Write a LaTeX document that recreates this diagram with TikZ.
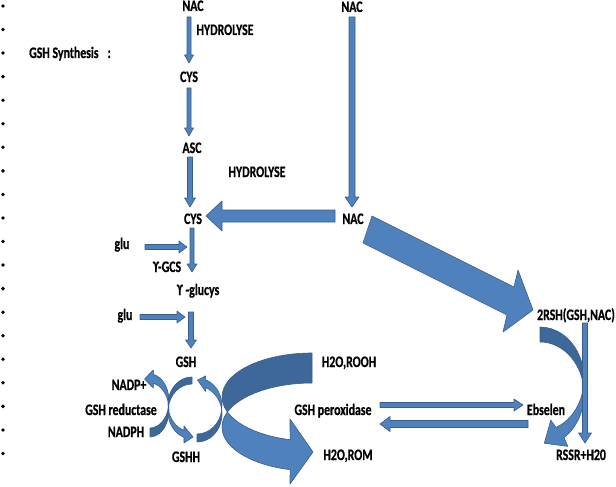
\documentclass[tikz,border=0pt]{standalone}
\usepackage{fontspec}
\setmainfont{Carlito}[FakeStretch=0.74, BoldFeatures={FakeBold=0.6}]
\usetikzlibrary{calc}
\definecolor{blkfill}{HTML}{4F81BD}
\definecolor{blkline}{HTML}{385D8A}
\definecolor{blkdark}{HTML}{3D6899}
\tikzset{
  blk/.style={fill=blkfill, draw=blkline, line width=0.6pt, line join=round},
  ribback/.style={fill=blkdark, draw=blkline, line width=0.6pt, line join=round},
  ribfront/.style={fill=blkfill, draw=blkline, line width=0.6pt, line join=round},
  lbl/.style={inner sep=0pt, text height=10pt, text depth=0pt, font=\bfseries\fontsize{16}{18}\selectfont},
  bullet/.style={circle, fill=black, inner sep=0pt, minimum size=3.8pt}
}
% block arrow: start, end, half shaft, half head, head length
\newcommand\barrow[5]{%
  \coordinate (bC) at ($(#2)!#5pt!(#1)$);
  \filldraw[blk] ($(#1)!#3pt!90:(#2)$) -- ($(bC)!#3pt!90:(#2)$) -- ($(bC)!#4pt!90:(#2)$) -- (#2)
    -- ($(bC)!#4pt!-90:(#2)$) -- ($(bC)!#3pt!-90:(#2)$) -- ($(#1)!#3pt!-90:(#2)$) -- cycle;
}
\begin{document}
\begin{tikzpicture}[x=1pt,y=-1pt]
\fill[white] (0,0) rectangle (616,487);
\useasboundingbox (0,0) rectangle (616,487);

% bullets
\foreach \i in {0,...,19} { \node[bullet] (b\i) at (3,{6+23.55*\i}) {}; }

% texts
\node[lbl, anchor=west] (title) at (29,53) {GSH Synthesis\hspace{9pt}:};
\node[lbl] (nac1) at (193,6) {NAC};
\node[lbl] (hyd1) at (225,30) {HYDROLYSE};
\node[lbl] (cys1) at (189,77) {CYS};
\node[lbl] (asc) at (192,148) {ASC};
\node[lbl] (hyd2) at (257,172) {HYDROLYSE};
\node[lbl] (nac2) at (352,7) {NAC};
\node[lbl] (nac3) at (353,219) {NAC};
\node[lbl] (cys2) at (193,219) {CYS};
\node[lbl] (glu1) at (122,244) {glu};
\node[lbl] (gcs) at (167,267) {ϒ-GCS};
\node[lbl] (glucys) at (198,290) {ϒ -glucys};
\node[lbl] (glu2) at (125,315) {glu};
\node[lbl] (gsh) at (186,362) {GSH};
\node[lbl] (nadp) at (129,385) {NADP+};
\node[lbl] (gshred) at (121,410) {GSH reductase};
\node[lbl] (nadph) at (126,432) {NADPH};
\node[lbl] (gshh) at (186,457) {GSHH};
\node[lbl] (rooh) at (349,362) {H2O,ROOH};
\node[lbl] (gpx) at (333,410) {GSH peroxidase};
\node[lbl] (ebs) at (546,410) {Ebselen};
\node[lbl] (rom) at (348,455) {H2O,ROM};
\node[lbl] (rsh) at (576,315) {2RSH(GSH,NAC)};
\node[lbl] (rssr) at (581,455) {RSSR+H20};

% connector end points
\coordinate (a1s) at (189,17);  \coordinate (a1e) at (189,63);
\coordinate (a2s) at (189,88);  \coordinate (a2e) at (189,136);
\coordinate (a3s) at (190,157); \coordinate (a3e) at (190,207);
\coordinate (a4s) at (352,17);  \coordinate (a4e) at (352,207);
\coordinate (a5s) at (335,216); \coordinate (a5e) at (206,216);
\coordinate (a7s) at (145,247); \coordinate (a7e) at (187,247);
\coordinate (a8s) at (192,228); \coordinate (a8e) at (192,272);
\coordinate (a9s) at (140,317); \coordinate (a9e) at (185,317);
\coordinate (a10s) at (191,312); \coordinate (a10e) at (191,348);
\coordinate (a11s) at (380,405); \coordinate (a11e) at (523,405);
\coordinate (a12s) at (528,424); \coordinate (a12e) at (380,424);
\coordinate (a13s) at (585,323); \coordinate (a13e) at (585,443);

\barrow{a1s}{a1e}{2}{4.5}{8}
\barrow{a2s}{a2e}{2}{4.5}{8}
\barrow{a3s}{a3e}{2.5}{5.5}{9}
\barrow{a4s}{a4e}{3}{7}{10}
\barrow{a5s}{a5e}{6}{15}{16}
\barrow{a7s}{a7e}{2.5}{6}{8}
\barrow{a8s}{a8e}{2}{5}{8}
\barrow{a9s}{a9e}{2.5}{6}{8}
\barrow{a10s}{a10e}{2.5}{5.5}{8}
\barrow{a11s}{a11e}{2.5}{6}{9}
\barrow{a12s}{a12e}{3.5}{7.5}{10}

% big diagonal arrow NAC -> 2RSH
\coordinate (d1) at (372,216); \coordinate (d2) at (514,287); \coordinate (d3) at (518,270);
\coordinate (dtip) at (533,310); \coordinate (d5) at (503,332); \coordinate (d6) at (507,315);
\coordinate (d7) at (363,243);
\filldraw[blk] (d1) -- (d2) -- (d3) -- (dtip) -- (d5) -- (d6) -- (d7) -- cycle;

% curved ribbon 2RSH -> Ebselen
\filldraw[ribback] ([shift={(540,379)}]-90:44 and 52) arc[start angle=-90,end angle=8.3,x radius=44,y radius=52]
  -- ([shift={(540,394)}]-8.3:44 and 52) arc[start angle=-8.3,end angle=-90,x radius=44,y radius=52] -- cycle;
\filldraw[ribfront] ([shift={(540,379)}]8.3:44 and 52) arc[start angle=8.3,end angle=68.7,x radius=44,y radius=52]
  -- (550.8,420.1) -- (544.3,443.2) -- (567.8,446.4)
  -- ([shift={(540,394)}]57:44 and 52) arc[start angle=57,end angle=-8.3,x radius=44,y radius=52] -- cycle;
\barrow{a13s}{a13e}{2.5}{6.5}{10}

% NADPH -> NADP+
\filldraw[ribback] ([shift={(150,410)}]90:19 and 27) arc[start angle=90,end angle=-9.6,x radius=19,y radius=27]
  -- ([shift={(150,401)}]9.6:19 and 27) arc[start angle=9.6,end angle=90,x radius=19,y radius=27] -- cycle;
\filldraw[ribfront] ([shift={(150,410)}]-9.6:19 and 27) arc[start angle=-9.6,end angle=-80,x radius=19,y radius=27]
  -- (153.3,388) -- (144.5,379) -- (153.3,370)
  -- ([shift={(150,401)}]-80:19 and 27) arc[start angle=-80,end angle=9.6,x radius=19,y radius=27] -- cycle;

% GSH -> GSHH
\filldraw[ribback] ([shift={(192,404.5)}]270:24 and 27.5) arc[start angle=270,end angle=172.7,x radius=24,y radius=27.5]
  -- ([shift={(192,411.5)}]187.3:24 and 27.5) arc[start angle=187.3,end angle=270,x radius=24,y radius=27.5] -- cycle;
\filldraw[ribfront] ([shift={(192,404.5)}]172.7:24 and 27.5) arc[start angle=172.7,end angle=109.5,x radius=24,y radius=27.5]
  -- (184,426) -- (193,437) -- (184,443)
  -- ([shift={(192,411.5)}]109.5:24 and 27.5) arc[start angle=109.5,end angle=187.3,x radius=24,y radius=27.5] -- cycle;

% GSHH -> GSH
\filldraw[ribback] ([shift={(197,414)}]90:25 and 28) arc[start angle=90,end angle=-8.2,x radius=25,y radius=28]
  -- ([shift={(197,406)}]8.2:25 and 28) arc[start angle=8.2,end angle=90,x radius=25,y radius=28] -- cycle;
\filldraw[ribfront] ([shift={(197,414)}]-8.2:25 and 28) arc[start angle=-8.2,end angle=-70,x radius=25,y radius=28]
  -- (205.6,391.5) -- (197.5,380) -- (205.6,376)
  -- ([shift={(197,406)}]-70:25 and 28) arc[start angle=-70,end angle=8.2,x radius=25,y radius=28] -- cycle;

% big curved arrow H2O,ROOH -> H2O,ROM
\filldraw[ribback] ([shift={(312,397)}]270:90 and 44) arc[start angle=270,end angle=160.1,x radius=90,y radius=44]
  -- ([shift={(312,427)}]199.9:90 and 44) arc[start angle=199.9,end angle=270,x radius=90,y radius=44] -- cycle;
\filldraw[ribfront] ([shift={(312,397)}]160.1:90 and 44) arc[start angle=160.1,end angle=104.1,x radius=90,y radius=44]
  -- (290,419) -- (313,452) -- (290,484)
  -- ([shift={(312,427)}]104.1:90 and 44) arc[start angle=104.1,end angle=199.9,x radius=90,y radius=44] -- cycle;
\end{tikzpicture}
\end{document}
